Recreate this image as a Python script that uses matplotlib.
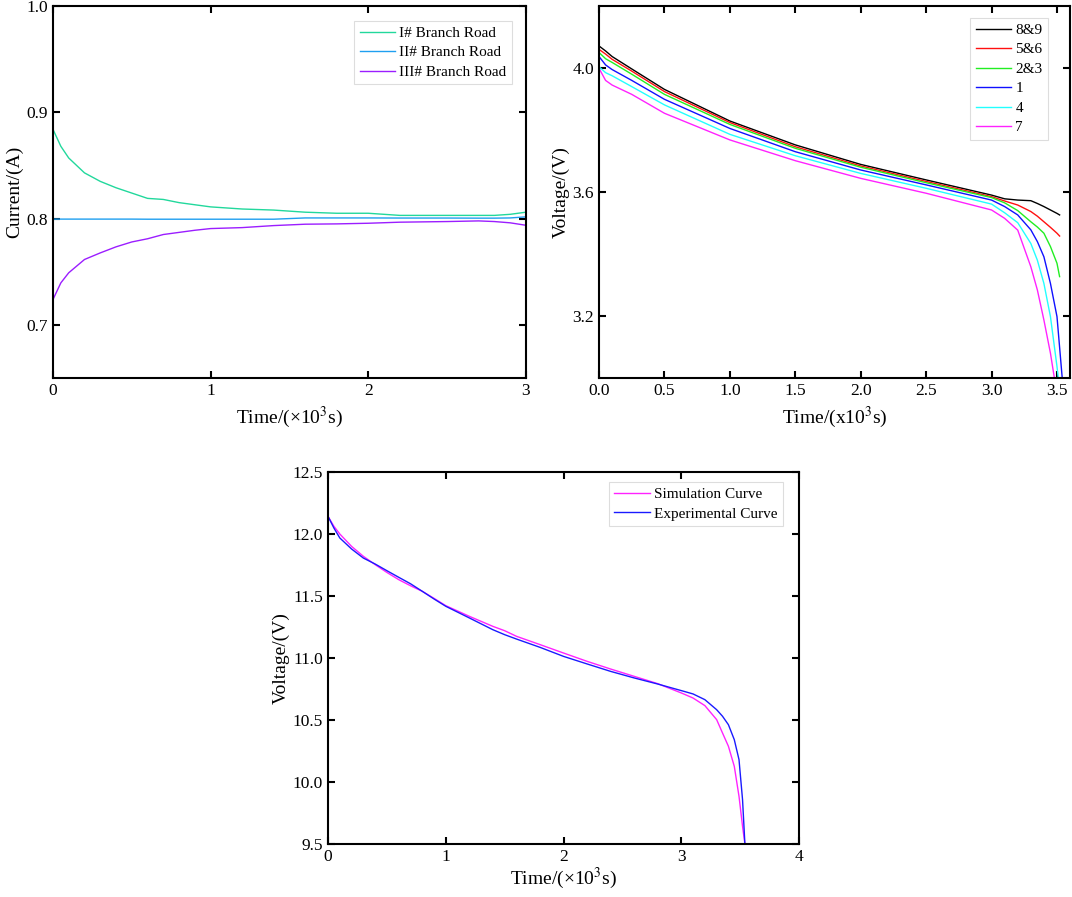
import matplotlib
matplotlib.use('Agg')
import matplotlib.pyplot as plt

plt.rcParams['font.family'] = ['Liberation Serif', 'DejaVu Serif']
plt.rcParams['mathtext.fontset'] = 'stix'

# ---- top-left: branch currents ----
t_branch = [0.0, 0.05, 0.1, 0.2, 0.3, 0.4, 0.5, 0.6, 0.7, 0.8, 0.9, 1.0,
            1.2, 1.4, 1.6, 1.8, 2.0, 2.2, 2.5, 2.7, 2.8, 2.9, 3.0]
i_branch1 = [0.884, 0.868, 0.857, 0.843, 0.835, 0.829, 0.824, 0.819, 0.818, 0.815,
             0.813, 0.811, 0.809, 0.808, 0.806, 0.805, 0.805, 0.803, 0.803, 0.803,
             0.803, 0.804, 0.806]
i_branch2 = [0.7995, 0.7995, 0.7995, 0.7995, 0.7995, 0.7995, 0.7995, 0.7994, 0.7994,
             0.7994, 0.7994, 0.7994, 0.7994, 0.7994, 0.8006, 0.8006, 0.8006, 0.8005,
             0.8005, 0.8004, 0.8004, 0.8006, 0.8016]
i_branch3 = [0.7238, 0.7395, 0.749, 0.7615, 0.7677, 0.7734, 0.778, 0.781, 0.785,
             0.787, 0.789, 0.7906, 0.7915, 0.7934, 0.7947, 0.795, 0.7956, 0.7966,
             0.7972, 0.7978, 0.7972, 0.796, 0.7937]
branch_labels = ['I# Branch Road', 'II# Branch Road', 'III# Branch Road']

# ---- top-right: cell voltages ----
t_cell = [0.0, 0.05, 0.1, 0.25, 0.5, 1.0, 1.5, 2.0, 2.5, 3.0, 3.1, 3.2, 3.3,
          3.35, 3.4, 3.45, 3.5]
v_89 = [4.071, 4.055, 4.037, 3.997, 3.931, 3.829, 3.752, 3.689, 3.639, 3.590,
        3.578, 3.574, 3.572, 3.563, 3.553, 3.542, 3.531]
v_56 = [4.060, 4.045, 4.028, 3.990, 3.924, 3.824, 3.746, 3.684, 3.634, 3.585,
        3.571, 3.558, 3.537, 3.522, 3.504, 3.486, 3.467]
v_23 = [4.050, 4.030, 4.018, 3.980, 3.915, 3.818, 3.741, 3.680, 3.630, 3.582,
        3.565, 3.540, 3.504, 3.487, 3.467, 3.424, 3.370]
v_1 = [4.037, 4.010, 3.995, 3.960, 3.899, 3.805, 3.730, 3.671, 3.623, 3.574,
       3.553, 3.526, 3.478, 3.440, 3.391, 3.305, 3.198]
v_4 = [4.004, 3.985, 3.975, 3.940, 3.881, 3.786, 3.717, 3.660, 3.612, 3.561,
       3.533, 3.501, 3.434, 3.380, 3.305, 3.198, 3.037]
v_7 = [3.999, 3.960, 3.945, 3.915, 3.854, 3.768, 3.701, 3.644, 3.596, 3.542,
       3.515, 3.477, 3.359, 3.284, 3.187, 3.080, 2.96]
t_end = [3.52, 3.52, 3.52, 3.54, 3.51, 3.48]
v_end = [3.526, 3.458, 3.327, 3.0, 3.0, 3.0]
cell_labels = ['8&9', '5&6', '2&3', '1', '4', '7']

# ---- bottom: pack voltage ----
t_pack = [0.0, 0.05, 0.1, 0.2, 0.3, 0.4, 0.5, 0.6, 0.7, 0.8, 0.9, 1.0, 1.2, 1.4,
          1.5, 1.6, 1.8, 2.0, 2.2, 2.4, 2.6, 2.8, 3.0, 3.1, 3.2, 3.3, 3.35, 3.4,
          3.45, 3.49, 3.52, 3.54]
v_sim = [12.142, 12.062, 12.0, 11.90, 11.82, 11.753, 11.69, 11.632, 11.583, 11.538,
         11.481, 11.422, 11.336, 11.255, 11.22, 11.175, 11.108, 11.040, 10.973,
         10.911, 10.852, 10.793, 10.718, 10.677, 10.616, 10.503, 10.395, 10.288,
         10.126, 9.884, 9.642, 9.5]
v_exp = [12.142, 12.048, 11.968, 11.879, 11.806, 11.758, 11.704, 11.651, 11.599,
         11.538, 11.476, 11.417, 11.323, 11.228, 11.188, 11.153, 11.086, 11.013,
         10.952, 10.892, 10.839, 10.790, 10.737, 10.710, 10.664, 10.583, 10.530,
         10.462, 10.341, 10.18, 9.857, 9.5]
pack_labels = ['Simulation Curve', 'Experimental Curve']

fig = plt.figure(figsize=(10.72, 8.97), dpi=100)
ax1 = fig.add_axes([0.0494, 0.5786, 0.4412, 0.4147])
ax2 = fig.add_axes([0.5588, 0.5786, 0.4394, 0.4147])
ax3 = fig.add_axes([0.3060, 0.0591, 0.4394, 0.4147])


def style(ax):
    for s in ax.spines.values():
        s.set_linewidth(1.5)
    ax.tick_params(direction='in', length=5, width=1.5, top=True, right=True,
                   labelsize=12.5)


def legend(ax, anchor):
    leg = ax.legend(loc='upper right', bbox_to_anchor=anchor, borderaxespad=0,
                    fontsize=11, handlelength=2.3, handletextpad=0.3,
                    labelspacing=0.38, borderpad=0.35, fancybox=False,
                    framealpha=1)
    leg.get_frame().set_edgecolor('#dddddd')
    leg.get_frame().set_linewidth(0.8)


# top-left
for y, c, lab in zip([i_branch1, i_branch2, i_branch3],
                     ['#22d89c', '#1f9ff0', '#9b1dff'], branch_labels):
    ax1.plot(t_branch, y, color=c, lw=1.0, label=lab)
ax1.set_xlim(0, 3)
ax1.set_ylim(0.65, 1.0)
ax1.set_xticks([0, 1, 2, 3])
ax1.set_yticks([0.7, 0.8, 0.9, 1.0])
ax1.set_yticklabels(['0.7', '0.8', '0.9', '1.0'])
ax1.set_xlabel('Time/(×10$^{3}$s)', fontsize=14)
ax1.set_ylabel('Current/(A)', fontsize=14, labelpad=2)
style(ax1)
legend(ax1, (0.97, 0.96))

# top-right
cell_series = [v_89, v_56, v_23, v_1, v_4, v_7]
cell_colors = ['black', '#ff1010', '#22ee22', '#1010ff', '#22ffff', '#ff22ff']
for y, c, lab, te, ve in zip(cell_series, cell_colors, cell_labels, t_end, v_end):
    xs = [t for t, v in zip(t_cell, y) if t < te] + [te]
    ys = [v for t, v in zip(t_cell, y) if t < te] + [ve]
    ax2.plot(xs, ys, color=c, lw=1.0, label=lab)
ax2.set_xlim(0, 3.6)
ax2.set_ylim(3.0, 4.2)
ax2.set_xticks([0.0, 0.5, 1.0, 1.5, 2.0, 2.5, 3.0, 3.5])
ax2.set_xticklabels(['0.0', '0.5', '1.0', '1.5', '2.0', '2.5', '3.0', '3.5'])
ax2.set_yticks([3.2, 3.6, 4.0])
ax2.set_yticklabels(['3.2', '3.6', '4.0'])
ax2.set_xlabel('Time/(x10$^{3}$s)', fontsize=14)
ax2.set_ylabel('Voltage/(V)', fontsize=14, labelpad=2)
style(ax2)
legend(ax2, (0.953, 0.968))

# bottom
ax3.plot(t_pack, v_sim, color='#ff22ff', lw=1.0, label=pack_labels[0])
ax3.plot(t_pack, v_exp, color='#1a1aff', lw=1.0, label=pack_labels[1])
ax3.set_xlim(0, 4)
ax3.set_ylim(9.5, 12.5)
ax3.set_xticks([0, 1, 2, 3, 4])
ax3.set_yticks([9.5, 10.0, 10.5, 11.0, 11.5, 12.0, 12.5])
ax3.set_yticklabels(['9.5', '10.0', '10.5', '11.0', '11.5', '12.0', '12.5'])
ax3.set_xlabel('Time/(×10$^{3}$s)', fontsize=14, labelpad=1)
ax3.set_ylabel('Voltage/(V)', fontsize=14, labelpad=2)
style(ax3)
legend(ax3, (0.966, 0.973))

fig.savefig('out.png', dpi=100)
